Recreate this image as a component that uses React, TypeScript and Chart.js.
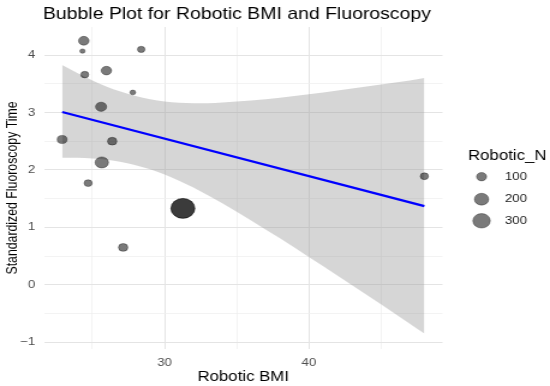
import React, { useEffect, useRef } from 'react';
import { Chart, registerables } from 'chart.js';

Chart.register(...registerables);

// ---- text ----
const chartTitle = 'Bubble Plot for Robotic BMI and Fluoroscopy';
const xTitle = 'Robotic BMI';
const yTitle = 'Standardized Fluoroscopy Time';
const legendTitle = 'Robotic_N';

// ---- data ----
const bmi = [24.4, 24.31, 28.38, 24.47, 25.97, 27.8, 25.6, 22.9, 26.37, 25.65, 24.7, 31.27, 31.27, 27.13, 48.01];
const fluoroTime = [4.25, 4.07, 4.1, 3.66, 3.73, 3.35, 3.1, 2.53, 2.5, 2.13, 1.77, 1.33, 1.33, 0.65, 1.89];
const roboticN = [110, 28, 55, 62, 105, 32, 120, 95, 86, 175, 66, 560, 560, 86, 66];

// linear fit and its confidence band
const fitX = [22.9, 48.01];
const fitY = [3.01, 1.37];
const bandX = [22.9, 25, 27, 29, 31, 33, 35, 37, 39, 41, 43, 45, 47, 48.01];
const bandUpper = [3.83, 3.56, 3.36, 3.23, 3.17, 3.16, 3.19, 3.23, 3.29, 3.35, 3.42, 3.49, 3.56, 3.6];
const bandLower = [2.21, 2.2, 2.14, 2.01, 1.81, 1.56, 1.27, 0.96, 0.65, 0.32, -0.01, -0.34, -0.68, -0.85];

// axes
const xMin = 21.64;
const xMax = 49.27;
const yMin = -1.12;
const yMax = 4.49;
const xTickLabels = [30, 40];
const yTickLabels = [-1, 0, 1, 2, 3, 4];
const legendBreaks = [100, 200, 300];

// ---- style ----
const FONT = '"Liberation Sans", Arial, Helvetica, sans-serif';
const LOGICAL_W = 458; // drawn narrower, then stretched to 550px like the reference
const H = 386;
const POINT_FILL = 'rgba(0,0,0,0.52)';
const POINT_BORDER = 'rgba(0,0,0,0.4)';

function radiusFor(n: number): number {
  return 0.42 * Math.sqrt(n);
}

const overlayPlugin = {
  id: 'overlayText',
  afterDraw(chart: any) {
    const ctx = chart.ctx as CanvasRenderingContext2D;
    ctx.save();
    // title
    ctx.fillStyle = '#000000';
    ctx.font = `16.2px ${FONT}`;
    ctx.textAlign = 'left';
    ctx.textBaseline = 'alphabetic';
    ctx.fillText(chartTitle, 35.8, 18.5);

    // legend
    ctx.font = `14px ${FONT}`;
    ctx.fillText(legendTitle, 389.7, 159.5);
    const ys = [176.7, 199.2, 220.8];
    legendBreaks.forEach((b, i) => {
      const r = radiusFor(b);
      ctx.beginPath();
      ctx.arc(401, ys[i], r, 0, Math.PI * 2);
      ctx.fillStyle = POINT_FILL;
      ctx.fill();
      ctx.lineWidth = 0.8;
      ctx.strokeStyle = POINT_BORDER;
      ctx.stroke();
      ctx.fillStyle = '#1a1a1a';
      ctx.font = `11px ${FONT}`;
      ctx.textBaseline = 'middle';
      ctx.fillText(String(b), 420.5, ys[i]);
    });
    ctx.restore();
  },
};

export default function App() {
  const canvasRef = useRef<HTMLCanvasElement | null>(null);

  useEffect(() => {
    const canvas = canvasRef.current;
    if (!canvas) return;

    const bubbles = bmi.map((x, i) => ({ x, y: fluoroTime[i], r: radiusFor(roboticN[i]) }));
    const upper = bandX.map((x, i) => ({ x, y: bandUpper[i] }));
    const lower = bandX.map((x, i) => ({ x, y: bandLower[i] }));
    const fit = fitX.map((x, i) => ({ x, y: fitY[i] }));

    const isMajorX = (v: number) => xTickLabels.includes(v);
    const isMajorY = (v: number) => yTickLabels.includes(v);

    const chart = new Chart(canvas, {
      type: 'bubble',
      data: {
        datasets: [
          {
            type: 'bubble',
            label: 'Robotic_N',
            data: bubbles,
            backgroundColor: POINT_FILL,
            borderColor: POINT_BORDER,
            borderWidth: 0.8,
            order: 0,
          } as any,
          {
            type: 'line',
            label: 'fit',
            data: fit,
            borderColor: '#0000ff',
            borderWidth: 2.2,
            pointRadius: 0,
            fill: false,
            order: 1,
          },
          {
            type: 'line',
            label: 'upper',
            data: upper,
            borderWidth: 0,
            borderColor: 'rgba(0,0,0,0)',
            pointRadius: 0,
            cubicInterpolationMode: 'monotone',
            backgroundColor: 'rgba(153,153,153,0.4)',
            fill: '+1',
            order: 2,
          },
          {
            type: 'line',
            label: 'lower',
            data: lower,
            borderWidth: 0,
            borderColor: 'rgba(0,0,0,0)',
            pointRadius: 0,
            cubicInterpolationMode: 'monotone',
            fill: false,
            order: 3,
          },
        ],
      },
      options: {
        responsive: false,
        devicePixelRatio: 1,
        animation: false,
        events: [],
        layout: { padding: { left: 0, right: LOGICAL_W - 368.5, top: 27, bottom: 0 } },
        plugins: {
          legend: { display: false },
          title: { display: false },
          tooltip: { enabled: false },
        },
        scales: {
          x: {
            type: 'linear',
            min: xMin,
            max: xMax,
            border: { display: false },
            grid: {
              drawTicks: false,
              color: (c: any) => (c.tick && isMajorX(c.tick.value) ? '#e4e4e4' : '#eeeeee'),
              lineWidth: (c: any) => (c.tick && isMajorX(c.tick.value) ? 1 : 0.7),
            },
            ticks: {
              stepSize: 5,
              includeBounds: false,
              autoSkip: false,
              maxRotation: 0,
              padding: 7.2,
              color: '#4d4d4d',
              font: { family: FONT, size: 11 },
              callback: (v: any) => (isMajorX(Number(v)) ? String(v) : ''),
            },
            title: {
              display: true,
              text: xTitle,
              color: '#000000',
              font: { family: FONT, size: 14 },
              padding: { top: 0, bottom: 0.6 },
            },
            afterFit: (s: any) => {
              s.height = H - 349;
            },
          },
          y: {
            type: 'linear',
            min: yMin,
            max: yMax,
            border: { display: false },
            grid: {
              drawTicks: false,
              color: (c: any) => (c.tick && isMajorY(c.tick.value) ? '#e4e4e4' : '#eeeeee'),
              lineWidth: (c: any) => (c.tick && isMajorY(c.tick.value) ? 1 : 0.7),
            },
            ticks: {
              stepSize: 0.5,
              includeBounds: false,
              autoSkip: false,
              padding: 7.2,
              color: '#4d4d4d',
              font: { family: FONT, size: 11 },
              callback: (v: any) => {
                const n = Number(v);
                if (!isMajorY(n)) return '';
                return n < 0 ? '\u2212' + Math.abs(n) : String(n);
              },
            },
            title: {
              display: true,
              text: yTitle,
              color: '#000000',
              font: { family: FONT, size: 12.3 },
              padding: { top: 3, bottom: 0 },
            },
            afterFit: (s: any) => {
              s.width = 36.6;
            },
          },
        },
      } as any,
      plugins: [overlayPlugin],
    });

    return () => {
      chart.destroy();
    };
  }, []);

  return (
    <div style={{ position: 'absolute', left: 0, top: 0, width: 550, height: H, background: '#ffffff' }}>
      <canvas
        ref={canvasRef}
        width={LOGICAL_W}
        height={H}
        style={{ width: '550px', height: `${H}px`, display: 'block' }}
      />
    </div>
  );
}
